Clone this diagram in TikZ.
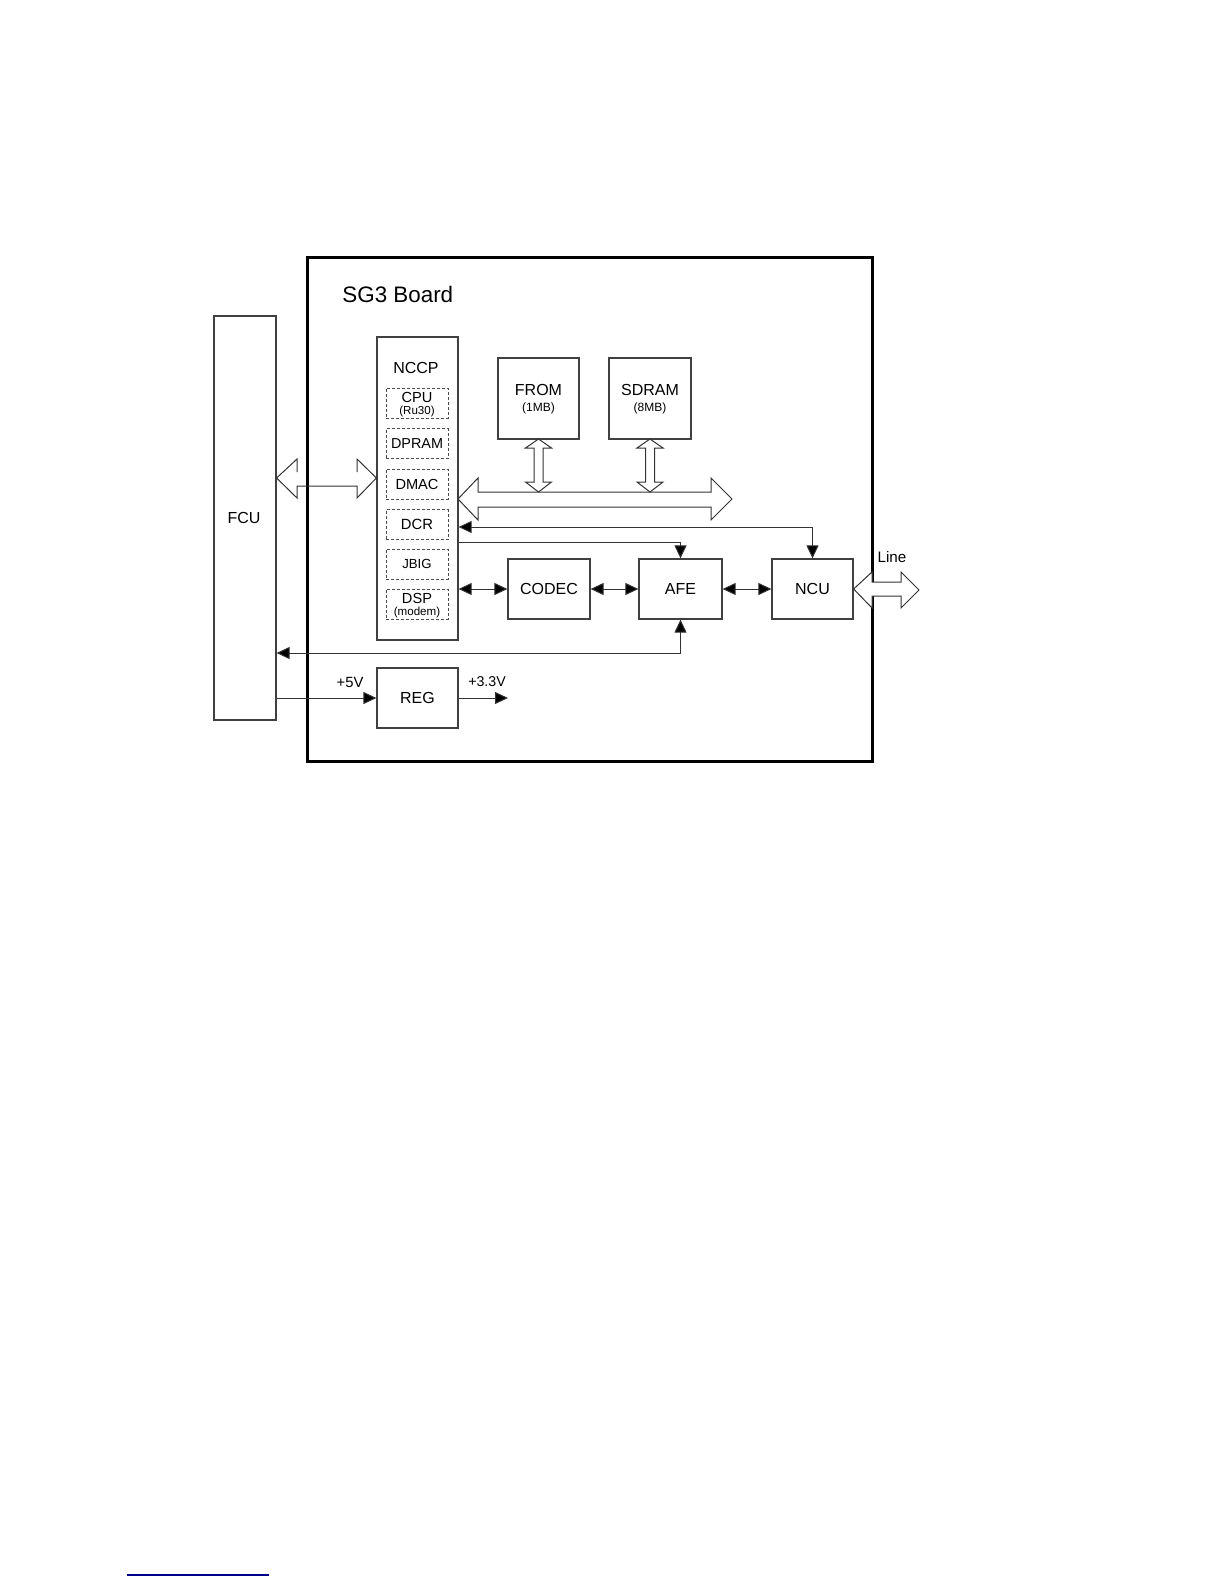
\documentclass[tikz,border=0pt]{standalone}
\usepackage{fontspec}
\setmainfont{Liberation Sans}
\usetikzlibrary{arrows.meta}
\tikzset{
  blk/.style={draw=black!75, line width=0.6pt, inner sep=0pt, fill=white},
  subbox/.style={draw=black!70, dash pattern=on 1.5pt off 1pt, line width=0.5pt, inner sep=0pt, minimum width=31pt, minimum height=15pt},
  lbl/.style={font=\fontsize{8}{9}\selectfont, inner sep=0pt},
  slbl/.style={font=\fontsize{7.3}{8}\selectfont, inner sep=0pt},
  tlbl/.style={font=\fontsize{5.8}{6}\selectfont, inner sep=0pt},
  conn/.style={draw=black!80, line width=0.5pt},
  endtip/.style={-{Triangle[length=6.5pt,width=6pt,fill=black]}},
  bothtip/.style={{Triangle[length=6.5pt,width=6pt,fill=black]}-{Triangle[length=6.5pt,width=6pt,fill=black]}},
  hollow/.style={draw=black!80, line width=0.5pt, fill=white, line join=miter},
}
\begin{document}
\begin{tikzpicture}[x=0.5pt,y=-0.5pt]
\useasboundingbox (0,0) rectangle (1224,1584);

% board
\draw[line width=1.5pt] (307,257) rectangle (872,761);
\node[anchor=west, inner sep=0pt, font=\fontsize{11.2}{13}\selectfont] (title) at (342,294) {SG3 Board};

% FCU
\node[blk, minimum width=31pt, minimum height=202pt] (FCU) at (245,518) {};
\node[lbl] (fculbl) at (244,518) {FCU};

% NCCP
\node[blk, minimum width=40.5pt, minimum height=151.5pt] (NCCP) at (417.5,488.5) {};
\node[lbl] (nccplbl) at (416,368) {NCCP};
\node[subbox] (CPU) at (417,403) {};
\node[slbl] (cpulbl) at (417,397) {CPU};
\node[tlbl] (cpusub) at (417,411) {(Ru30)};
\node[subbox] (DPRAM) at (417,443.5) {\fontsize{7.2}{8}\selectfont DPRAM};
\node[subbox] (DMAC) at (417,484) {\fontsize{7.3}{8}\selectfont DMAC};
\node[subbox] (DCR) at (417,524.5) {\fontsize{7.4}{8}\selectfont DCR};
\node[subbox] (JBIG) at (417,564) {\fontsize{6.6}{7}\selectfont JBIG};
\node[subbox] (DSP) at (417,604) {};
\node[slbl] (dsplbl) at (417,598) {DSP};
\node[tlbl] (dspsub) at (417,612) {(modem)};

% memories
\node[blk, minimum width=40.5pt, minimum height=40.5pt] (FROM) at (538.5,398.5) {};
\node[lbl] (fromlbl) at (538.5,390) {FROM};
\node[tlbl, font=\fontsize{6}{7}\selectfont] (fromsub) at (538.5,408) {(1MB)};
\node[blk, minimum width=41pt, minimum height=40.5pt] (SDRAM) at (650,398.5) {};
\node[lbl] (sdramlbl) at (650,390) {SDRAM};
\node[tlbl, font=\fontsize{6}{7}\selectfont] (sdramsub) at (650,408) {(8MB)};

% lower row
\node[blk, minimum width=41pt, minimum height=30pt] (CODEC) at (549,589) {\fontsize{8}{9}\selectfont CODEC};
\node[blk, minimum width=41.5pt, minimum height=30pt] (AFE) at (680.5,589) {\fontsize{8}{9}\selectfont AFE};
\node[blk, minimum width=40.5pt, minimum height=30pt] (NCU) at (812.5,589) {\fontsize{8}{9}\selectfont NCU};
\node[blk, minimum width=40.5pt, minimum height=30pt] (REG) at (417.5,698) {\fontsize{8}{9}\selectfont REG};

% bus
\draw[hollow] (458,499) -- (478,478) -- (478,492) -- (711,492) -- (711,478) -- (732,499)
  -- (711,520) -- (711,507) -- (478,507) -- (478,520) -- cycle;
% vertical hollow arrows
\foreach \cx in {538.5, 650}{
  \begin{scope}[shift={(\cx,0)}]
  \draw[hollow] (0,439) -- (13,448) -- (4.5,448) -- (4.5,482) -- (13,482) -- (0,492)
    -- (-13,482) -- (-4.5,482) -- (-4.5,448) -- (-13,448) -- cycle;
  \end{scope}
}

% FCU - NCCP interface arrow
\draw[draw=black!80, line width=0.5pt, line join=miter]
  (297,472) -- (297,459) -- (FCU.east |- 0,478) -- (297,498) -- (297,486) -- (357,486)
  -- (357,498) -- (NCCP.west |- 0,478) -- (357,459) -- (357,472);

% Line interface arrow
\draw[hollow] (NCU.east) -- (872,572) -- (872,582) -- (901,582) -- (901,572) -- (919,590)
  -- (901,608) -- (901,596) -- (872,596) -- (872,608) -- cycle;
\node[font=\fontsize{7.6}{8}\selectfont, inner sep=0pt] (linelbl) at (892,557) {Line};

% connectors
\coordinate (ydcr) at (0,527);
\coordinate (yafe) at (0,542);
\coordinate (yret) at (0,653);
\coordinate (v33) at (508,698);
\draw[conn, bothtip] (NCCP.east |- CODEC) -- (CODEC.west);
\draw[conn, bothtip] (CODEC.east) -- (AFE.west);
\draw[conn, bothtip] (AFE.east) -- (NCU.west);
\draw[conn, bothtip] (NCCP.east |- ydcr) -| (NCU.north);
\draw[conn, endtip] (NCCP.east |- yafe) -| (AFE.north);
\draw[conn, bothtip] (AFE.south) |- (FCU.east |- yret);
\draw[conn, endtip] (FCU.east |- REG) -- (REG.west);
\draw[conn, endtip] (REG.east) -- (v33);
\node[font=\fontsize{7.4}{8}\selectfont, inner sep=0pt] (v5lbl) at (350,682) {+5V};
\node[font=\fontsize{7.1}{8}\selectfont, inner sep=0pt] (v33lbl) at (487,682) {+3.3V};

% footer line
\draw[blue!55!black, line width=0.8pt] (127,1575) -- (269,1575);
\end{tikzpicture}
\end{document}
